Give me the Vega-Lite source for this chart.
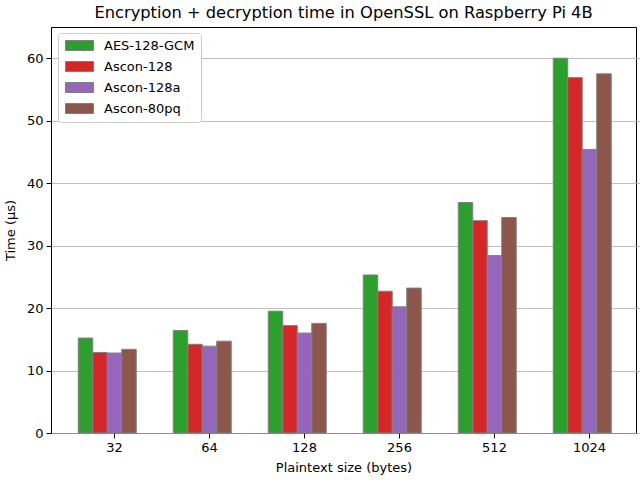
{
  "$schema": "https://vega.github.io/schema/vega-lite/v6.json",
  "width": 585,
  "height": 406,
  "autosize": {"type": "none"},
  "padding": {"left": 51, "top": 27, "right": 4, "bottom": 47},
  "title": {"text": "Encryption + decryption time in OpenSSL on Raspberry Pi 4B", "fontSize": 16.3, "font": "DejaVu Sans", "fontWeight": "normal", "color": "black", "offset": 6, "anchor": "middle"},
  "config": {
    "font": "DejaVu Sans",
    "view": {"stroke": "black", "strokeWidth": 1},
    "axis": {"labelFont": "DejaVu Sans", "titleFont": "DejaVu Sans", "labelFontSize": 13, "titleFontSize": 13, "titleFontWeight": "normal", "labelColor": "black", "titleColor": "black", "tickColor": "black", "domainColor": "black", "tickSize": 5, "labelPadding": 3}
  },
  "data": {"values": [
    {"size": "32", "cipher": "AES-128-GCM", "time": 15.2},
    {"size": "32", "cipher": "Ascon-128", "time": 12.9},
    {"size": "32", "cipher": "Ascon-128a", "time": 12.8},
    {"size": "32", "cipher": "Ascon-80pq", "time": 13.4},
    {"size": "64", "cipher": "AES-128-GCM", "time": 16.4},
    {"size": "64", "cipher": "Ascon-128", "time": 14.2},
    {"size": "64", "cipher": "Ascon-128a", "time": 13.9},
    {"size": "64", "cipher": "Ascon-80pq", "time": 14.7},
    {"size": "128", "cipher": "AES-128-GCM", "time": 19.5},
    {"size": "128", "cipher": "Ascon-128", "time": 17.2},
    {"size": "128", "cipher": "Ascon-128a", "time": 16.0},
    {"size": "128", "cipher": "Ascon-80pq", "time": 17.55},
    {"size": "256", "cipher": "AES-128-GCM", "time": 25.3},
    {"size": "256", "cipher": "Ascon-128", "time": 22.7},
    {"size": "256", "cipher": "Ascon-128a", "time": 20.2},
    {"size": "256", "cipher": "Ascon-80pq", "time": 23.2},
    {"size": "512", "cipher": "AES-128-GCM", "time": 36.9},
    {"size": "512", "cipher": "Ascon-128", "time": 34.0},
    {"size": "512", "cipher": "Ascon-128a", "time": 28.4},
    {"size": "512", "cipher": "Ascon-80pq", "time": 34.5},
    {"size": "1024", "cipher": "AES-128-GCM", "time": 60.0},
    {"size": "1024", "cipher": "Ascon-128", "time": 56.9},
    {"size": "1024", "cipher": "Ascon-128a", "time": 45.4},
    {"size": "1024", "cipher": "Ascon-80pq", "time": 57.5}
  ]},
  "mark": {"type": "bar", "stroke": "gray", "strokeWidth": 1},
  "encoding": {
    "x": {"field": "size", "type": "nominal", "sort": ["32", "64", "128", "256", "512", "1024"],
      "scale": {"paddingInner": 0.237, "paddingOuter": 0.287, "range": [0, 602]},
      "axis": {"title": "Plaintext size (bytes)", "labelAngle": 0, "grid": false, "domain": false, "titlePadding": 7, "titleX": 292.5}},
    "xOffset": {"field": "cipher", "type": "nominal",
      "scale": {"domain": ["AES-128-GCM", "Ascon-128", "Ascon-128a", "Ascon-80pq", "~"], "paddingInner": 0, "paddingOuter": 0}},
    "y": {"field": "time", "type": "quantitative", "scale": {"domain": [0, 65], "nice": false},
      "axis": {"title": "Time (µs)", "values": [0, 10, 20, 30, 40, 50, 60], "grid": true, "gridColor": "#b0b0b0", "gridWidth": 0.8, "titlePadding": 9}},
    "color": {"field": "cipher", "type": "nominal",
      "scale": {"domain": ["AES-128-GCM", "Ascon-128", "Ascon-128a", "Ascon-80pq"], "range": ["#2ca02c", "#d62728", "#9467bd", "#8c564b"]},
      "legend": {"orient": "none", "legendX": 7, "legendY": 6, "title": null, "fillColor": "white", "strokeColor": "#cccccc", "cornerRadius": 3, "padding": 6,
        "labelFontSize": 13, "labelFont": "DejaVu Sans", "labelColor": "black", "symbolType": "M-1,-1H4.6V1H-1Z", "symbolSize": 100, "symbolStrokeColor": "gray", "symbolStrokeWidth": 1, "symbolOpacity": 1, "rowPadding": 6, "labelOffset": 27}}
  }
}
